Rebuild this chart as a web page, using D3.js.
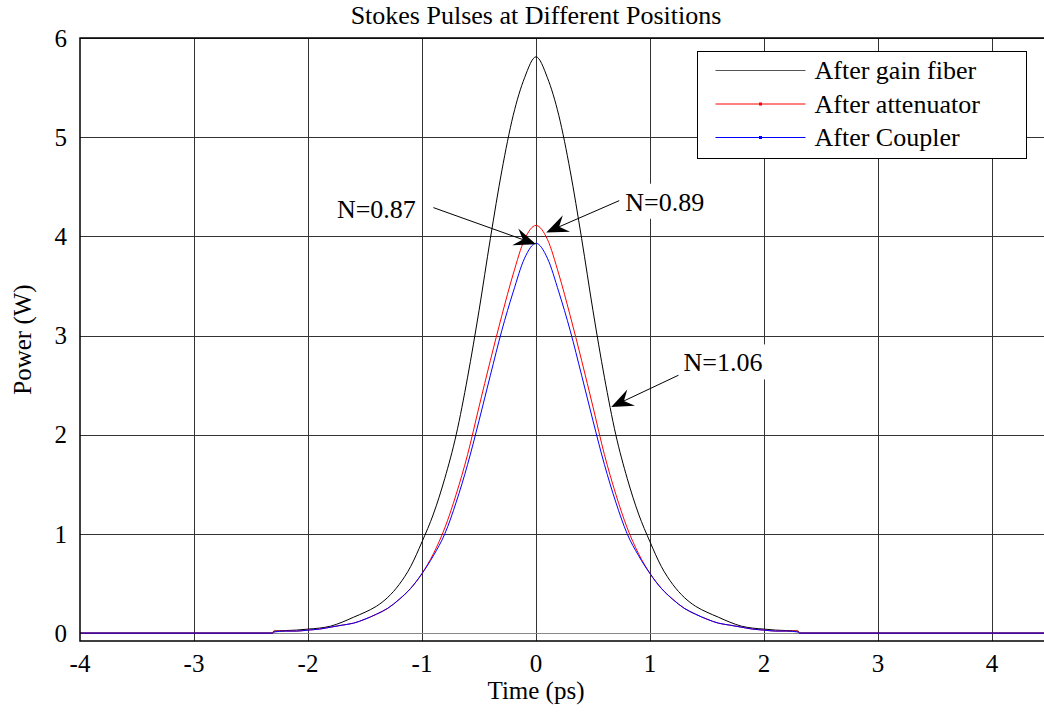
<!DOCTYPE html>
<html>
<head>
<meta charset="utf-8">
<script src="https://cdn.jsdelivr.net/npm/d3@7"></script>
<style>
  body { margin: 0; background: #fff; }
  text { font-family: "Liberation Serif", "Times New Roman", serif; fill: #000; }
</style>
</head>
<body>
<div id="chart"></div>
<script>
// time axis (ps) shared by all three pulses
const timePs = [-4.0, -2.31,
  -2.3, -2.2, -2.1, -2.0, -1.9, -1.8, -1.7, -1.6, -1.5, -1.4, -1.3, -1.2, -1.1, -1.0,
  -0.9, -0.8, -0.7, -0.6, -0.5, -0.4, -0.3, -0.2, -0.1, 0.0,
  0.1, 0.2, 0.3, 0.4, 0.5, 0.6, 0.7, 0.8, 0.9, 1.0,
  1.1, 1.2, 1.3, 1.4, 1.5, 1.6, 1.7, 1.8, 1.9, 2.0, 2.1, 2.2, 2.3,
  2.31, 4.5];

const afterGainFiber = [0, 0,
  0.02, 0.025, 0.03, 0.04, 0.05, 0.07, 0.11, 0.16, 0.21, 0.27, 0.36, 0.49, 0.67, 0.92,
  1.20, 1.56, 2.0, 2.58, 3.25, 3.98, 4.66, 5.22, 5.60, 5.81,
  5.60, 5.22, 4.66, 3.98, 3.25, 2.58, 2.0, 1.56, 1.20, 0.92,
  0.67, 0.49, 0.36, 0.27, 0.21, 0.16, 0.11, 0.07, 0.05, 0.04, 0.03, 0.025, 0.02,
  0, 0];

const afterAttenuator = [0, 0,
  0.02, 0.02, 0.02, 0.03, 0.04, 0.06, 0.08, 0.10, 0.14, 0.19, 0.25, 0.34, 0.45, 0.60,
  0.80, 1.06, 1.40, 1.80, 2.28, 2.75, 3.20, 3.62, 3.97, 4.11,
  3.97, 3.62, 3.20, 2.75, 2.28, 1.80, 1.40, 1.06, 0.80, 0.60,
  0.45, 0.34, 0.25, 0.19, 0.14, 0.10, 0.08, 0.06, 0.04, 0.03, 0.02, 0.02, 0.02,
  0, 0];

const afterCoupler = [0, 0,
  0.01, 0.02, 0.02, 0.03, 0.04, 0.06, 0.08, 0.10, 0.14, 0.19, 0.25, 0.34, 0.45, 0.60,
  0.78, 1.00, 1.32, 1.70, 2.14, 2.60, 3.05, 3.44, 3.78, 3.93,
  3.78, 3.44, 3.05, 2.60, 2.14, 1.70, 1.32, 1.00, 0.78, 0.60,
  0.45, 0.34, 0.25, 0.19, 0.14, 0.10, 0.08, 0.06, 0.04, 0.03, 0.02, 0.02, 0.01,
  0, 0];

const seriesNames = ["After gain fiber", "After attenuator", "After Coupler"];
const seriesColors = ["#000000", "#ff0000", "#0000ff"];
const legendColors = ["#555555", "#ff0000", "#0000ff"];
const seriesMarkers = [false, true, true];

const xTicks = [-4, -3, -2, -1, 0, 1, 2, 3, 4];
const yTicks = [0, 1, 2, 3, 4, 5, 6];

// annotations: label position, arrow tail and arrow tip (data units)
const notes = [
  { label: "N=0.87", tx: -1.40, ty: 4.28, x0: -0.90, y0: 4.29, x1: 0.0, y1: 3.92 },
  { label: "N=0.89", tx: 1.13, ty: 4.35, x0: 0.73, y0: 4.36, x1: 0.09, y1: 4.04 },
  { label: "N=1.06", tx: 1.64, ty: 2.73, x0: 1.25, y0: 2.60, x1: 0.66, y1: 2.28 }
];

const width = 1044, height = 712;
const margin = { top: 38, left: 80, bottom: 71 };

const x = d3.scaleLinear().domain([-4, 4.5]).range([margin.left, margin.left + 8.5 * 114]);
const y = d3.scaleLinear().domain([-0.08, 6]).range([height - margin.bottom, margin.top]);

const svg = d3.select("#chart").append("svg")
    .attr("width", width)
    .attr("height", height);

const plotRight = x.range()[1];
const plotBottom = y.range()[0];

// grid
svg.append("g").selectAll("line")
    .data(xTicks.slice(1))
    .enter().append("line")
    .attr("x1", d => Math.round(x(d)) + 0.5).attr("x2", d => Math.round(x(d)) + 0.5)
    .attr("y1", margin.top).attr("y2", plotBottom)
    .attr("stroke", "#333").attr("stroke-width", 1);

svg.append("g").selectAll("line")
    .data(yTicks)
    .enter().append("line")
    .attr("y1", d => Math.round(y(d)) + 0.5).attr("y2", d => Math.round(y(d)) + 0.5)
    .attr("x1", margin.left).attr("x2", plotRight)
    .attr("stroke", d => d === 0 ? "#888" : "#333").attr("stroke-width", 1);

// curves
const allSeries = [afterGainFiber, afterAttenuator, afterCoupler];
const line = d3.line()
    .x((d, i) => x(timePs[i]))
    .y(d => y(d))
    .curve(d3.curveMonotoneX);

allSeries.forEach((vals, k) => {
    svg.append("path")
        .datum(vals)
        .attr("d", line)
        .attr("fill", "none")
        .attr("stroke", seriesColors[k])
        .attr("stroke-width", 1);
});

// annotations
notes.forEach(n => {
    const label = svg.append("text")
        .attr("x", x(n.tx)).attr("y", y(n.ty))
        .attr("dy", "0.35em")
        .attr("text-anchor", "middle")
        .style("font-size", "26px")
        .text(n.label);
    const bb = label.node().getBBox();
    svg.insert("rect", "text")
        .attr("x", bb.x - 4).attr("y", bb.y - 4)
        .attr("width", bb.width + 8).attr("height", bb.height + 6)
        .attr("fill", "#fff");

    const px0 = x(n.x0), py0 = y(n.y0), px1 = x(n.x1), py1 = y(n.y1);
    const ang = Math.atan2(py1 - py0, px1 - px0);
    const len = Math.hypot(px1 - px0, py1 - py0);
    const headLen = 22, headW = 9, notch = 14;
    const ux = Math.cos(ang), uy = Math.sin(ang);
    const bx = px1 - ux * headLen, by = py1 - uy * headLen;
    const nx = px1 - ux * notch, ny = py1 - uy * notch;
    svg.append("line")
        .attr("x1", px0).attr("y1", py0)
        .attr("x2", px0 + ux * (len - notch)).attr("y2", py0 + uy * (len - notch))
        .attr("stroke", "#000").attr("stroke-width", 1);
    svg.append("path")
        .attr("d", `M${px1},${py1} L${bx - uy * headW},${by + ux * headW} L${nx},${ny} L${bx + uy * headW},${by - ux * headW} Z`)
        .attr("fill", "#000");
});

// frame
svg.append("rect")
    .attr("x", margin.left).attr("y", margin.top)
    .attr("width", plotRight - margin.left).attr("height", plotBottom - margin.top)
    .attr("fill", "none").attr("stroke", "#000").attr("stroke-width", 1.5);

// ticks labels
svg.append("g").selectAll("text")
    .data(xTicks)
    .enter().append("text")
    .attr("x", d => x(d))
    .attr("y", plotBottom + 31)
    .attr("text-anchor", "middle")
    .style("font-size", "25px")
    .text(d => d);

svg.append("g").selectAll("text")
    .data(yTicks)
    .enter().append("text")
    .attr("x", margin.left - 13)
    .attr("y", d => y(d))
    .attr("dy", "0.35em")
    .attr("text-anchor", "end")
    .style("font-size", "25px")
    .text(d => d);

// axis titles
svg.append("text")
    .attr("x", x(0)).attr("y", 699)
    .attr("text-anchor", "middle")
    .style("font-size", "25px")
    .text("Time (ps)");

svg.append("text")
    .attr("transform", `translate(31, ${(margin.top + plotBottom) / 2}) rotate(-90)`)
    .attr("text-anchor", "middle")
    .style("font-size", "25px")
    .text("Power (W)");

svg.append("text")
    .attr("x", x(0)).attr("y", 24)
    .attr("text-anchor", "middle")
    .style("font-size", "26px")
    .text("Stokes Pulses at Different Positions");

// legend
const legend = svg.append("g").attr("transform", "translate(697.5, 51.5)");
legend.append("rect")
    .attr("width", 329).attr("height", 107)
    .attr("fill", "#fff").attr("stroke", "#000").attr("stroke-width", 1);

seriesNames.forEach((name, i) => {
    const ly = 19 + i * 33.5;
    legend.append("line")
        .attr("x1", 18).attr("x2", 108)
        .attr("y1", ly).attr("y2", ly)
        .attr("stroke", legendColors[i]).attr("stroke-width", 1);
    if (seriesMarkers[i]) {
        legend.append("rect")
            .attr("x", 61.5).attr("y", ly - 1.5)
            .attr("width", 3).attr("height", 3)
            .attr("fill", seriesColors[i]);
    }
    legend.append("text")
        .attr("x", 117).attr("y", ly)
        .attr("dy", "0.33em")
        .style("font-size", "26px")
        .text(name);
});
</script>
</body>
</html>
